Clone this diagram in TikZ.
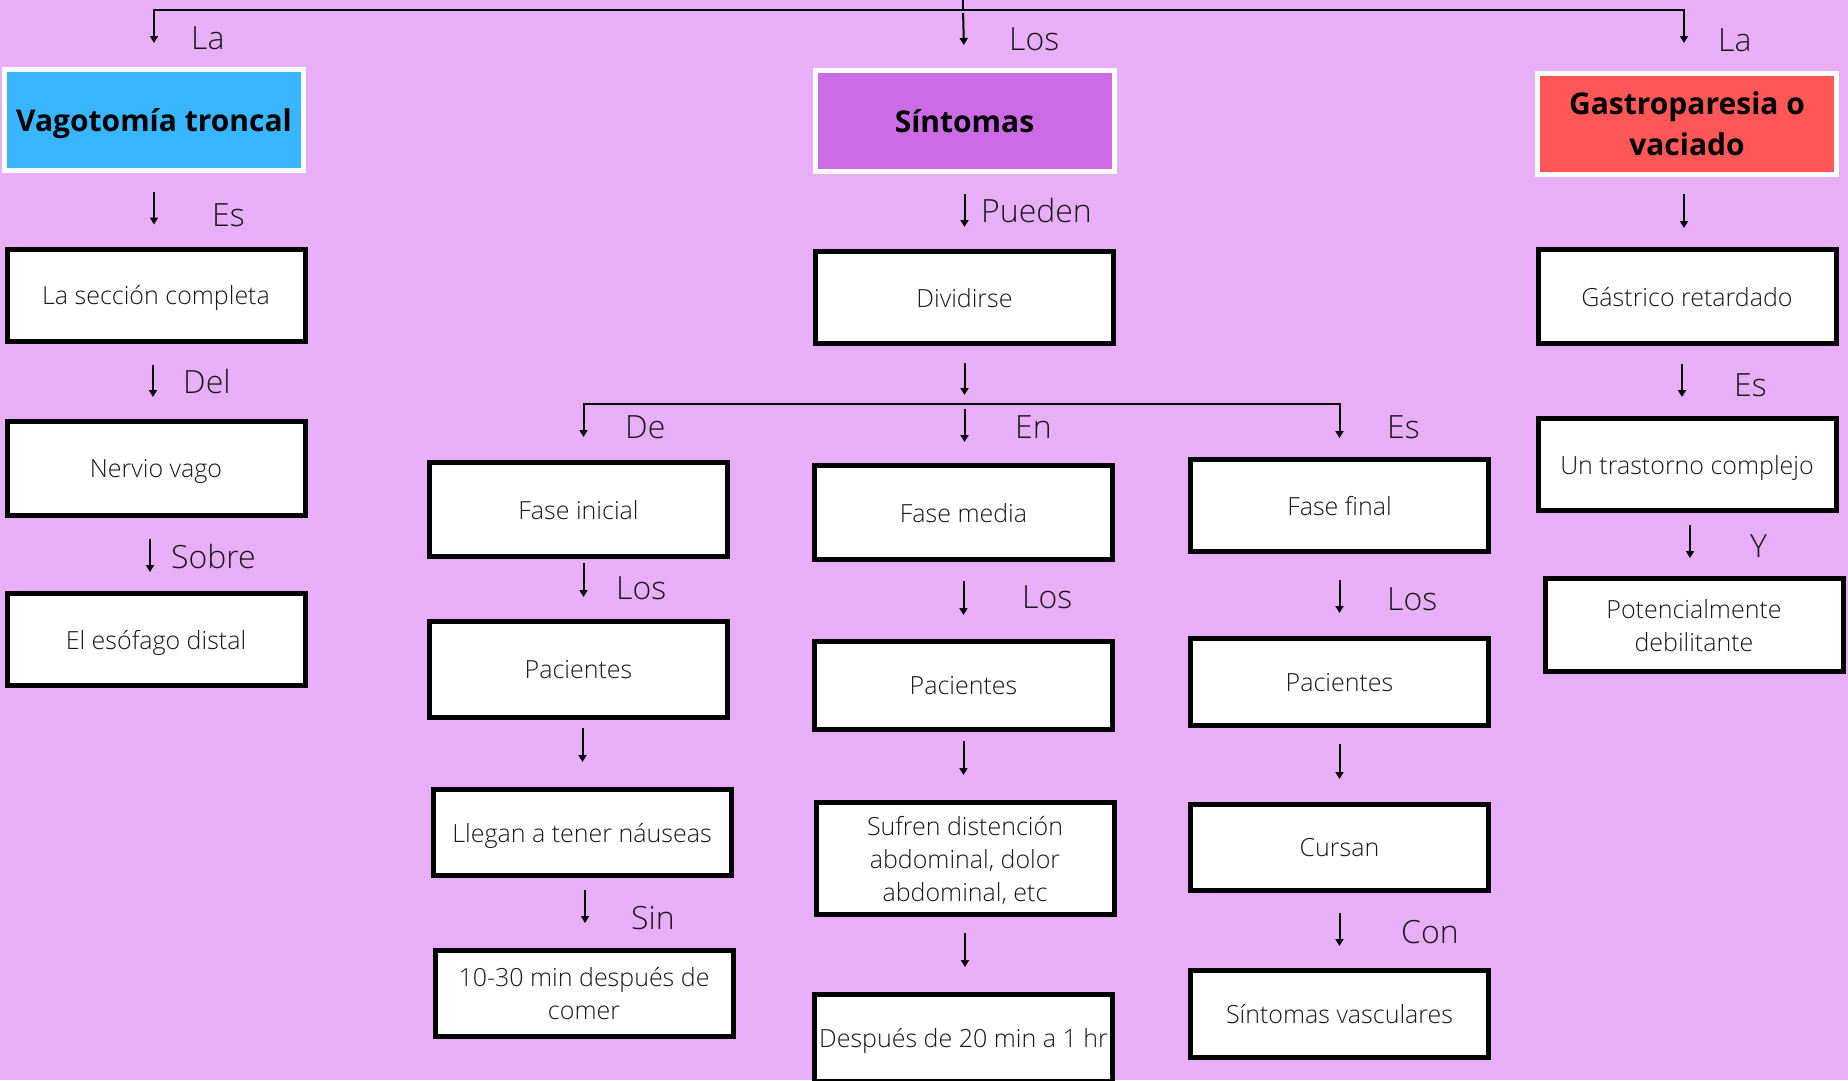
\documentclass[tikz,border=0pt]{standalone}
\usepackage{fontspec}
\setmainfont{Open Sans}
\newfontfamily\thinfont{Open Sans Light}
\usetikzlibrary{arrows.meta}
\definecolor{bgpink}{RGB}{232,174,247}
\definecolor{hblue}{RGB}{56,182,255}
\definecolor{hpurple}{RGB}{203,108,230}
\definecolor{hred}{RGB}{255,87,87}
\definecolor{ink}{RGB}{25,25,25}
\tikzset{
  box/.style={draw=black, line width=5pt, fill=white, minimum width=298pt, minimum height=#1, inner sep=0pt, align=center, text depth=0pt, text=ink, font=\thinfont\fontsize{25}{33}\selectfont},
  box/.default=92pt,
  head/.style={draw=white, line width=5pt, minimum width=299pt, minimum height=101pt, inner sep=0pt, align=center, font=\fontsize{30}{41}\selectfont\bfseries},
  lab/.style={anchor=base west, inner sep=0pt, text=ink, font=\thinfont\fontsize{32}{38}\selectfont},
  arr/.style={-{Triangle[length=7pt,width=8pt]}, line width=2pt},
}
\begin{document}
\begin{tikzpicture}[x=1pt, y=-1pt]
  \path [use as bounding box, fill=bgpink] (0,0) rectangle (1848,1080);

  % left column
  \node (vag) [head, fill=hblue, text depth=0pt] at (154,120) {Vagotomía troncal};
  \node (secc) [box, xshift=2pt, below of=vag, node distance=175pt] {La sección completa};
  \node (nerv) [box=94pt, below of=secc, node distance=173.5pt] {Nervio vago};
  \node (esof) [box, below of=nerv, node distance=171pt] {El esófago distal};

  % center column
  \node (sint) [head, fill=hpurple] at (964.5,121) {Síntomas};
  \node (divid) [box, below of=sint, node distance=176.5pt] {Dividirse};
  \node (fmed) [box=94pt, xshift=-1pt, below of=divid, node distance=215pt] {Fase media};
  \node (pac2) [box=88pt, below of=fmed, node distance=173pt] {Pacientes};
  \node (sufr) [box=112pt, xshift=1.5pt, below of=pac2, node distance=173pt] {Sufren distención\\abdominal, dolor\\abdominal, etc};
  \node (desp) [box=87pt, xshift=-1.5pt, below of=sufr, node distance=179.5pt] {Después de 20 min a 1 hr};

  % left branch
  \node (fini) [box=94pt] at (578.5,509.5) {Fase inicial};
  \node (pac1) [box=96pt, below of=fini, node distance=160pt] {Pacientes};
  \node (lleg) [box=86pt, xshift=3.5pt, below of=pac1, node distance=163pt] {Llegan a tener náuseas};
  \node (diez) [box=86pt, xshift=2pt, below of=lleg, node distance=161pt] {10-30 min después de\\comer};

  % right branch
  \node (ffin) [box] at (1339.5,505.5) {Fase final};
  \node (pac3) [box=87pt, below of=ffin, node distance=176.5pt] {Pacientes};
  \node (curs) [box=86pt, below of=pac3, node distance=165.5pt] {Cursan};
  \node (svas) [box=87pt, below of=curs, node distance=166.5pt] {Síntomas vasculares};

  % right column
  \node (gast) [head, fill=hred] at (1687,124) {Gastroparesia o\\vaciado};
  \node (gret) [box=94pt, below of=gast, node distance=172.5pt] {Gástrico retardado};
  \node (tras) [box, below of=gret, node distance=168pt] {Un trastorno complejo};
  \node (pot) [box=93pt, xshift=7pt, below of=tras, node distance=160.5pt] {Potencialmente\\debilitante};

  % labels
  \node (lla1) [lab] at (191,49) {La};
  \node (llos0) [lab] at (1009,50) {Los};
  \node (lla2) [lab] at (1718,51) {La};
  \node (les1) [lab] at (212,226) {Es};
  \node (lpue) [lab] at (981,222) {Pueden};
  \node (ldel) [lab] at (183,393) {Del};
  \node (lsob) [lab] at (171,568) {Sobre};
  \node (lde) [lab] at (625,438) {De};
  \node (len) [lab] at (1015,438) {En};
  \node (les2) [lab] at (1387,438) {Es};
  \node (llos1) [lab] at (616,599) {Los};
  \node (llos2) [lab] at (1022,608) {Los};
  \node (llos3) [lab] at (1387,610) {Los};
  \node (lsin) [lab] at (631,929) {Sin};
  \node (lcon) [lab] at (1401,943) {Con};
  \node (les3) [lab] at (1734,396) {Es};
  \node (ly) [lab] at (1750,557) {Y};

  % top bar
  \coordinate (top) at (963,0);
  \coordinate (bar) at (963,10);
  \draw [line width=2pt] (top) -- (bar);
  \draw [arr, shorten >=24pt] (bar) -| (vag.north);
  \draw [arr, shorten <=3pt, shorten >=23pt] (bar) -- (sint.north);
  \draw [arr, shorten >=28pt] (bar) -| ([xshift=-3pt]gast.north);

  \draw [arr, shorten <=19pt, shorten >=22pt] (vag.south) -- (vag.south |- secc.north);
  \draw [arr, shorten <=21pt, shorten >=22pt] ([xshift=-3pt]secc.south) -- ([xshift=-3pt]secc.south |- nerv.north);
  \draw [arr, shorten <=21pt, shorten >=19pt] ([xshift=-6pt]nerv.south) -- ([xshift=-6pt]nerv.south |- esof.north);

  \draw [arr, shorten <=20pt, shorten >=22pt] (sint.south) -- (sint.south |- divid.north);
  \coordinate (split) at (964.5,404);
  \draw [arr, shorten <=17pt, shorten >=9pt] (divid.south) -- (split);
  \draw [arr, shorten >=23pt] (split) -| ([xshift=5pt]fini.north);
  \draw [arr, shorten <=5pt, shorten >=21pt] (split) -- (split |- fmed.north);
  \draw [arr, shorten >=19pt] (split) -| (ffin.north);

  \draw [arr, shorten <=4pt, shorten >=22pt] ([xshift=5pt]fini.south) -- ([xshift=5pt]fini.south |- pac1.north);
  \draw [arr, shorten <=8pt, shorten >=25pt] ([xshift=4pt]pac1.south) -- ([xshift=4pt]pac1.south |- lleg.north);
  \draw [arr, shorten <=12pt, shorten >=25pt] ([xshift=3pt]lleg.south) -- ([xshift=3pt]lleg.south |- diez.north);

  \draw [arr, shorten <=19pt, shorten >=24pt] (fmed.south) -- (fmed.south |- pac2.north);
  \draw [arr, shorten <=9pt, shorten >=25pt] (pac2.south) -- (pac2.south |- sufr.north);
  \draw [arr, shorten <=16pt, shorten >=25pt] (sufr.south) -- (sufr.south |- desp.north);

  \draw [arr, shorten <=26pt, shorten >=23pt] (ffin.south) -- (ffin.south |- pac3.north);
  \draw [arr, shorten <=16pt, shorten >=23pt] (pac3.south) -- (pac3.south |- curs.north);
  \draw [arr, shorten <=20pt, shorten >=22pt] (curs.south) -- (curs.south |- svas.north);

  \draw [arr, shorten <=17pt, shorten >=19pt] ([xshift=-3pt]gast.south) -- ([xshift=-3pt]gast.south |- gret.north);
  \draw [arr, shorten <=18pt, shorten >=19pt] ([xshift=-5pt]gret.south) -- ([xshift=-5pt]gret.south |- tras.north);
  \draw [arr, shorten <=12pt, shorten >=18pt] ([xshift=3pt]tras.south) -- ([xshift=3pt]tras.south |- pot.north);
\end{tikzpicture}
\end{document}
